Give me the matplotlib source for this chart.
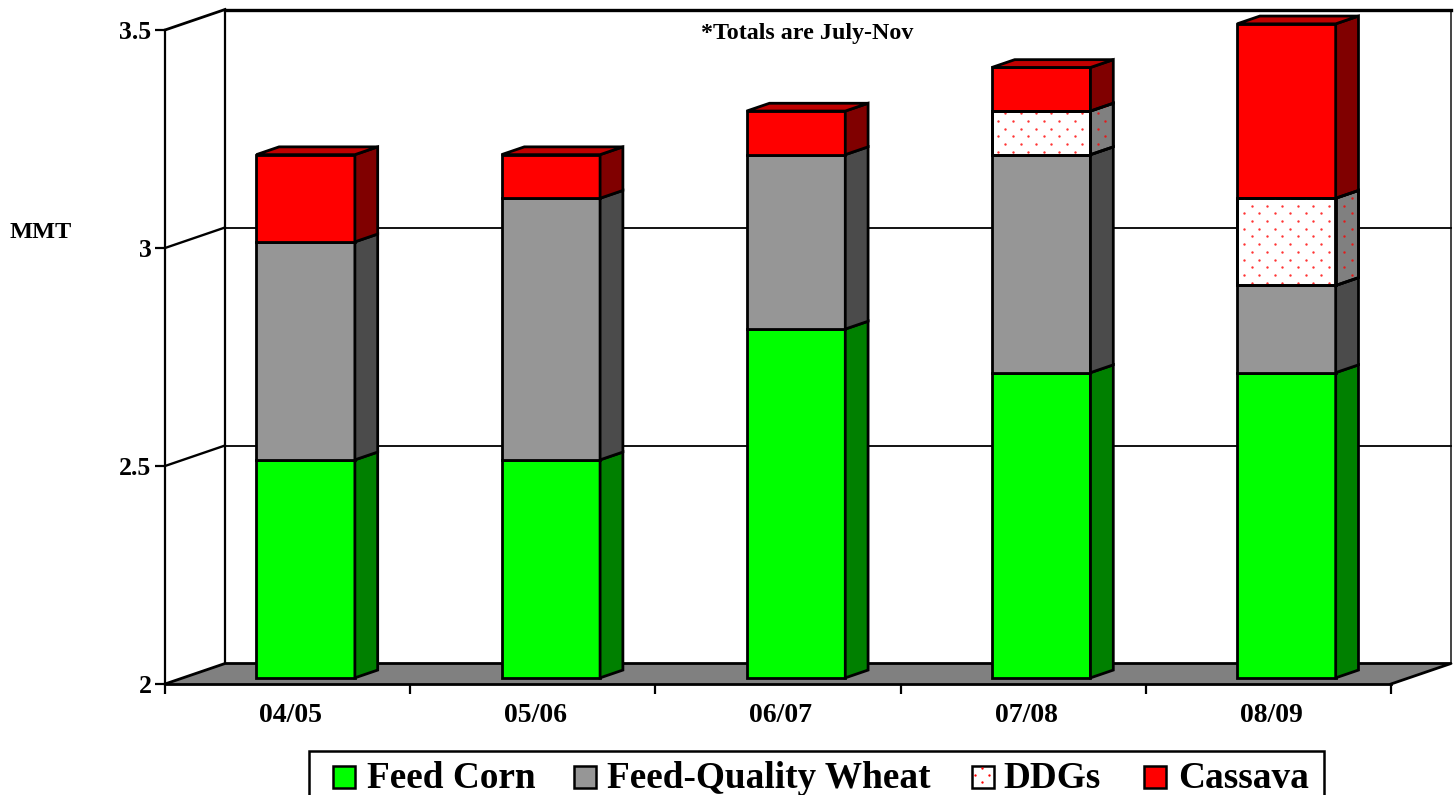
import numpy as np
import matplotlib
matplotlib.use('Agg')
import matplotlib.pyplot as plt
from matplotlib.patches import Polygon, Rectangle
from matplotlib.transforms import Affine2D

years = ['04/05', '05/06', '06/07', '07/08', '08/09']
corn = [2.5, 2.5, 2.8, 2.7, 2.7]
wheat = [0.5, 0.6, 0.4, 0.5, 0.2]
ddgs = [0.0, 0.0, 0.0, 0.1, 0.2]
cassava = [0.2, 0.1, 0.1, 0.1, 0.4]
yticks = [2, 2.5, 3, 3.5]
ytick_labels = ['2', '2.5', '3', '3.5']
legend_names = ['Feed Corn', 'Feed-Quality Wheat', 'DDGs', 'Cassava']

W, H = 1455, 795
plt.rcParams['font.family'] = ['Liberation Serif']
plt.rcParams['font.weight'] = 'bold'

fig = plt.figure(figsize=(W / 100, H / 100), dpi=100)
ax = fig.add_axes([165 / W, (H - 684) / H, 1226 / W, 654 / H])
ax.set_xlim(0, 5)
ax.set_ylim(2, 3.5)
ax.patch.set_visible(False)

# pixels measured from the top left, for the legend and the dots
px = Affine2D().scale(1, -1).translate(0, H)

# depth of the fake 3d box, in data units
dx = 60 / 245.2
dy = 20.5 / 436.0


def proj(x, y, d):
    return (x + d * dx, y + d * dy)


def face(pts, color, lw=2.0, z=1):
    p = Polygon([proj(*q) for q in pts], closed=True, facecolor=color,
                edgecolor='black', linewidth=lw, clip_on=False,
                joinstyle='miter', zorder=z)
    ax.add_patch(p)
    return p


def dots(clip_patch, z):
    # red dot fill, same grid in screen space for every face
    xs, ys, = [], []
    for i, row in enumerate(np.arange(5.5, H, 7.7)):
        shift = 7.7 if i % 2 else 0
        cols = np.arange(4.3 + shift, W, 15.4)
        xs.extend(cols)
        ys.extend([row] * len(cols))
    sc = ax.scatter(xs, ys, s=3.0, marker='o', color='#FF0000', linewidths=0,
                    alpha=0.8, transform=px, zorder=z)
    sc.set_clip_path(clip_patch)


# walls and floor
face([(0, 2, 1), (5, 2, 1), (5, 3.5, 1), (0, 3.5, 1)], 'white', lw=0, z=0.5)
ax.plot(*zip(proj(0, 2, 1), proj(0, 3.5, 1)), color='black', lw=1.6, clip_on=False, zorder=1)
ax.plot(*zip(proj(5, 2, 1), proj(5, 3.5, 1)), color='#444444', lw=1.4, clip_on=False, zorder=1)
ax.plot(*zip(proj(0, 3.5, 1), proj(5, 3.5, 1)), color='black', lw=2.4, clip_on=False, zorder=1)
ax.plot(*zip(proj(0, 3.5, 0), proj(0, 3.5, 1)), color='black', lw=2.0, clip_on=False, zorder=1)
for v in yticks[1:3]:
    ax.plot(*zip(proj(0, v, 0), proj(0, v, 1)), color='black', lw=1.7, clip_on=False, zorder=1)
    ax.plot(*zip(proj(0, v, 1), proj(5, v, 1)), color='black', lw=1.3, clip_on=False, zorder=1)
face([(0, 2, 0), (5, 2, 0), (5, 2, 1), (0, 2, 1)], '#808080', lw=0, z=1)
ax.plot(*zip(proj(0, 2, 0), proj(0, 2, 1), proj(5, 2, 1), proj(5, 2, 0)), color='black', lw=2.0,
        clip_on=False, zorder=1.1)

# stacked bars
series = [
    (corn, '#00FF00', '#008000', False),
    (wheat, '#969696', '#4B4B4B', False),
    (ddgs, '#FFFFFF', '#808080', True),
    (cassava, '#FF0000', '#800000', False),
]
d0, d1 = 0.30, 0.68
bw = 0.402
for i in range(len(years)):
    xl, xr = i + 0.5 - bw / 2, i + 0.5 + bw / 2
    bottom = 0.0
    z = 2 + i
    total = sum(s[0][i] for s in series)
    for vals, front, side, dotted in series:
        v = vals[i]
        if v <= 0:
            continue
        lo = max(bottom, 2.0)
        hi = bottom + v
        f = face([(xl, lo, d0), (xr, lo, d0), (xr, hi, d0), (xl, hi, d0)], front, z=z)
        s = face([(xr, lo, d0), (xr, lo, d1), (xr, hi, d1), (xr, hi, d0)], side, z=z)
        if dotted:
            dots(f, z + 0.01)
            dots(s, z + 0.01)
            # outlines again over the dots
            face([(xl, lo, d0), (xr, lo, d0), (xr, hi, d0), (xl, hi, d0)], 'none', z=z + 0.02)
            face([(xr, lo, d0), (xr, lo, d1), (xr, hi, d1), (xr, hi, d0)], 'none', z=z + 0.02)
        bottom = hi
    face([(xl, total, d0), (xr, total, d0), (xr, total, d1), (xl, total, d1)], '#C00000', z=z + 0.03)

# axes
for name in ['top', 'right']:
    ax.spines[name].set_visible(False)
ax.spines['left'].set_linewidth(1.6)
ax.spines['bottom'].set_linewidth(2.0)
ax.set_yticks(yticks)
ax.set_yticklabels(ytick_labels, fontsize=18.5, fontweight='bold')
ax.set_xticks(range(6))
ax.set_xticklabels([])
ax.set_xticks(np.arange(5) + 0.5, minor=True)
ax.set_xticklabels(years, minor=True, fontsize=20, fontweight='bold')
ax.tick_params(axis='y', length=7.5, width=1.6, pad=2.3)
ax.tick_params(axis='x', which='major', length=7.5, width=1.6)
ax.tick_params(axis='x', which='minor', length=0, pad=14)
# category labels sit a little right of the tick gap
for lab in ax.get_xticklabels(minor=True):
    lab.set_transform(lab.get_transform() + Affine2D().translate(3, 0))


def ftext(x, y, s, size, ha='left', va='baseline'):
    fig.text(x / W, (H - y) / H, s, fontsize=size, fontweight='bold', ha=ha, va=va, color='black')


ftext(40.5, 232, 'MMT', 17.5, ha='center', va='center')
ftext(807, 33, '*Totals are July-Nov', 17.3, ha='center', va='center')

# legend box runs off the bottom of the picture
fig.add_artist(Rectangle((309, 751), 1015, 60, transform=px, facecolor='white',
                         edgecolor='black', linewidth=1.8))
swatch_x = [333, 574, 972, 1144]
text_x = [367, 607, 1003, 1178]
swatch_col = ['#00FF00', '#969696', '#FFFFFF', '#FF0000']
for k, name in enumerate(legend_names):
    r = Rectangle((swatch_x[k], 766), 22, 22, transform=px, facecolor=swatch_col[k],
                  edgecolor='black', linewidth=1.8)
    fig.add_artist(r)
    ftext(text_x[k], 787.5, name, 26.8)
sw = np.array([[974.7, 775], [982, 767.7], [982, 782.3], [989.3, 775]])
fig.add_artist(plt.Line2D(sw[:, 0], sw[:, 1], transform=px, linestyle='none', marker='o',
                          markersize=1.7, color='#FF0000', markeredgewidth=0))

fig.savefig('out.png', dpi=100)
